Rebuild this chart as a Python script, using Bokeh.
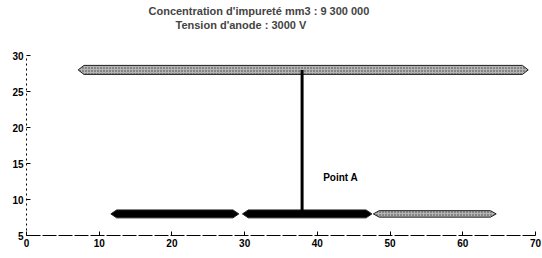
from bokeh.plotting import figure
from bokeh.models import Range1d, Title, ColumnDataSource, FixedTicker, Label
from bokeh.embed import file_html
from bokeh.resources import INLINE

# --- data ---
title_line1 = "Concentration d'impureté mm3 : 9 300 000"
title_line2 = "Tension d'anode : 3000 V"

band_start = [7.1, 11.6, 29.7, 47.7]
band_end = [69.0, 29.2, 47.5, 64.6]
band_y = [28.0, 8.0, 8.0, 8.0]
band_fill = ["#b4b4b4", "#000000", "#000000", "#b4b4b4"]
band_height = [1.25, 1.1, 1.1, 0.9]

link_x = [37.9, 37.9]
link_y = [8.0, 28.0]

point_label = "Point A"
point_x = 40.8
point_y = 13.0

x_ticks = [0, 10, 20, 30, 40, 50, 60, 70]
y_ticks = [5, 10, 15, 20, 25, 30]

# --- figure ---
p = figure(width=542, height=256, output_backend="svg", toolbar_location=None,
           x_range=Range1d(0, 70), y_range=Range1d(5, 30),
           min_border_left=26, min_border_right=7, min_border_top=55, min_border_bottom=21)
p.outline_line_color = None
p.xgrid.visible = False
p.ygrid.visible = False
p.background_fill_color = "white"

font = "Liberation Sans"
spacer = Title(text=" ", text_font=font, text_font_size="11px", standoff=11)
t2 = Title(text=title_line2, align="left", offset=149, text_font=font,
           text_font_size="11px", text_font_style="bold", standoff=0)
t1 = Title(text=title_line1, align="left", offset=122, text_font=font,
           text_font_size="11px", text_font_style="bold", standoff=0)
p.add_layout(spacer, "above")
p.add_layout(t2, "above")
p.add_layout(t1, "above")

# bands as arrow-ended ribbons (shape offset is styling)
tip = 0.8
xs, ys = [], []
for x0, x1, y, h in zip(band_start, band_end, band_y, band_height):
    hh = h / 2
    xs.append([x0, x0 + tip, x1 - tip, x1, x1 - tip, x0 + tip])
    ys.append([y, y + hh, y + hh, y, y - hh, y - hh])
src = ColumnDataSource(dict(xs=xs, ys=ys, fill=band_fill,
                            hatch=["#404040", "#ffffff", "#000000", "#404040"],
                            pat=["dot", " ", " ", "dot"]))
p.patches("xs", "ys", source=src, fill_color="fill", line_color="#202020", line_width=1,
          hatch_pattern="pat", hatch_color="hatch", hatch_scale=3, hatch_weight=1)

p.line(link_x, link_y, line_color="black", line_width=3)

p.add_layout(Label(x=point_x, y=point_y, text=point_label, text_font=font,
                   text_font_size="10px", text_font_style="bold",
                   text_baseline="middle", text_color="black"))

# axes
for ax, dash in ((p.xaxis, "14 2"), (p.yaxis, "2 3")):
    ax.axis_line_color = "black"
    ax.axis_line_width = 1
    ax.axis_line_dash = dash
    ax.major_tick_in = 4
    ax.major_tick_out = 0
    ax.minor_tick_line_color = None
    ax.major_tick_line_color = "black"
    ax.major_label_text_font = font
    ax.major_label_text_font_size = "10px"
    ax.major_label_text_font_style = "bold"
    ax.major_label_text_color = "black"
    ax.major_label_standoff = 3
p.xaxis.ticker = FixedTicker(ticks=x_ticks)
p.yaxis.ticker = FixedTicker(ticks=y_ticks)

open("out.html", "w").write(file_html(p, INLINE))
